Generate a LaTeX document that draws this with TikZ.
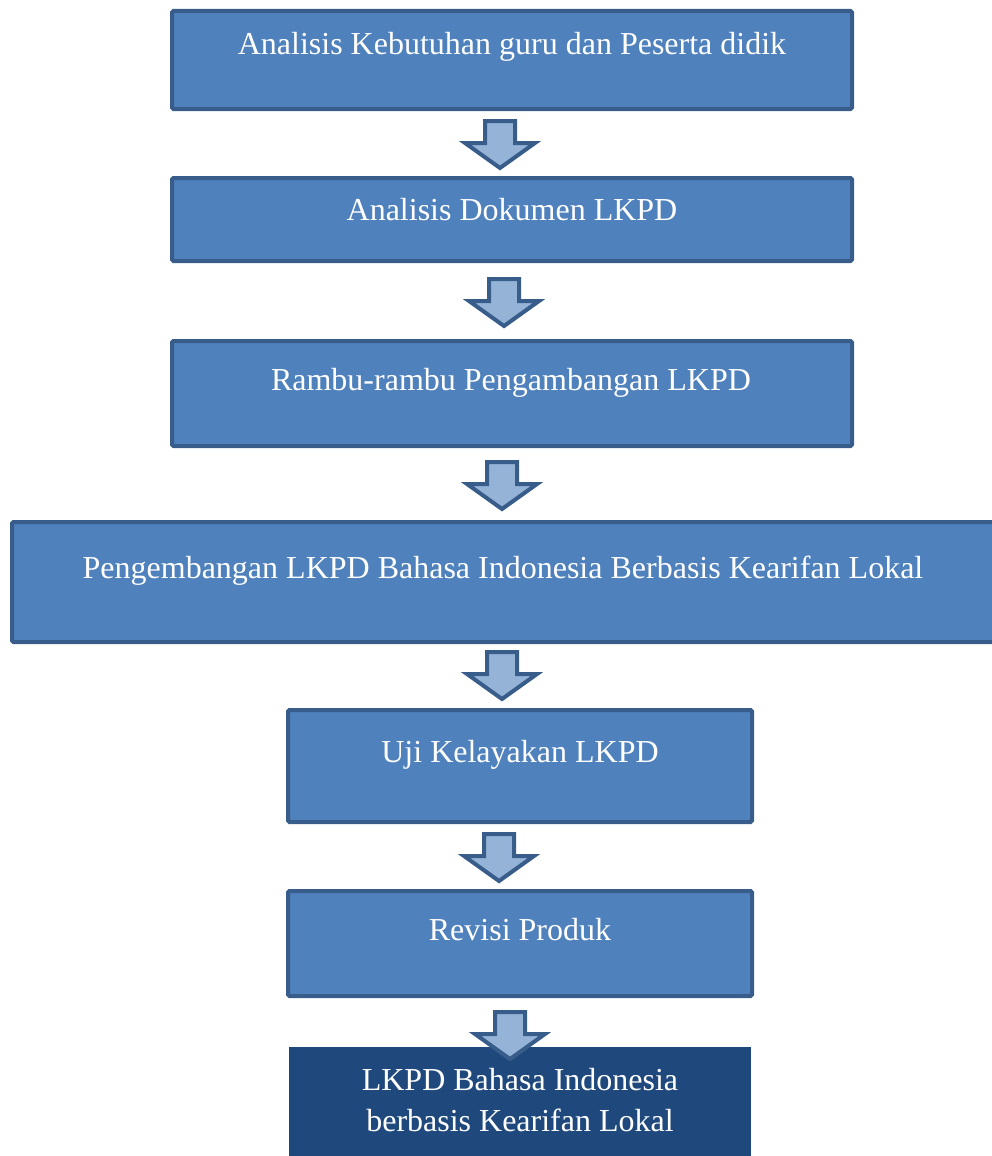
\documentclass[tikz,border=0pt]{standalone}
\usepackage{fontspec}
\setmainfont{Liberation Serif}
\definecolor{boxfill}{HTML}{4F81BD}
\definecolor{boxline}{HTML}{385D8A}
\definecolor{arrfill}{HTML}{95B3D7}
\definecolor{darkfill}{HTML}{1F497D}
\tikzset{
  stepbox/.style={draw=boxline, fill=boxfill, line width=4pt, rounded corners=1.5pt},
  finalbox/.style={fill=darkfill},
  label/.style={text=white, font=\fontsize{32}{38}\selectfont, anchor=base, inner sep=0pt},
  blockarrow/.style={draw=boxline, fill=arrfill, line width=4pt, line join=miter},
}
% block arrow: #1 = x centre, #2 = top y
\newcommand{\blkarrow}[2]{%
  \draw[blockarrow] (#1-15,#2) -- (#1+15,#2) -- (#1+15,#2+22) -- (#1+35,#2+22)
    -- (#1,#2+47) -- (#1-35,#2+22) -- (#1-15,#2+22) -- cycle;}
\begin{document}
\begin{tikzpicture}[x=1pt,y=-1pt]
\useasboundingbox (0,0) rectangle (992,1156);
\clip (0,0) rectangle (992,1156);
% boxes
\path[stepbox] (172,11) rectangle (852,109) coordinate (b1);
\path[stepbox] (172,178) rectangle (852,261) coordinate (b2);
\path[stepbox] (172,341) rectangle (852,446) coordinate (b3);
\path[stepbox] (12,522) rectangle (1010,642) coordinate (b4);
\path[stepbox] (288,710) rectangle (752,822) coordinate (b5);
\path[stepbox] (288,891) rectangle (752,996) coordinate (b6);
\path[finalbox] (289,1047) rectangle (751,1170) coordinate (b7);
% texts
\node[label] (t1) at (512,55) {Analisis Kebutuhan guru dan Peserta didik};
\node[label] (t2) at (512,220) {Analisis Dokumen LKPD};
\node[label] (t3) at (511,390) {Rambu-rambu Pengambangan LKPD};
\node[label] (t4) at (503,578) {Pengembangan LKPD Bahasa Indonesia Berbasis Kearifan Lokal};
\node[label] (t5) at (520,762) {Uji Kelayakan LKPD};
\node[label] (t6) at (520,940) {Revisi Produk};
\node[label] (t7a) at (520,1090) {LKPD Bahasa Indonesia};
\node[label] (t7b) at (520,1131) {berbasis Kearifan Lokal};
% arrows
\blkarrow{500}{121}
\blkarrow{504}{279}
\blkarrow{502}{462}
\blkarrow{502}{652}
\blkarrow{499}{834}
\blkarrow{510}{1012}
\end{tikzpicture}
\end{document}
